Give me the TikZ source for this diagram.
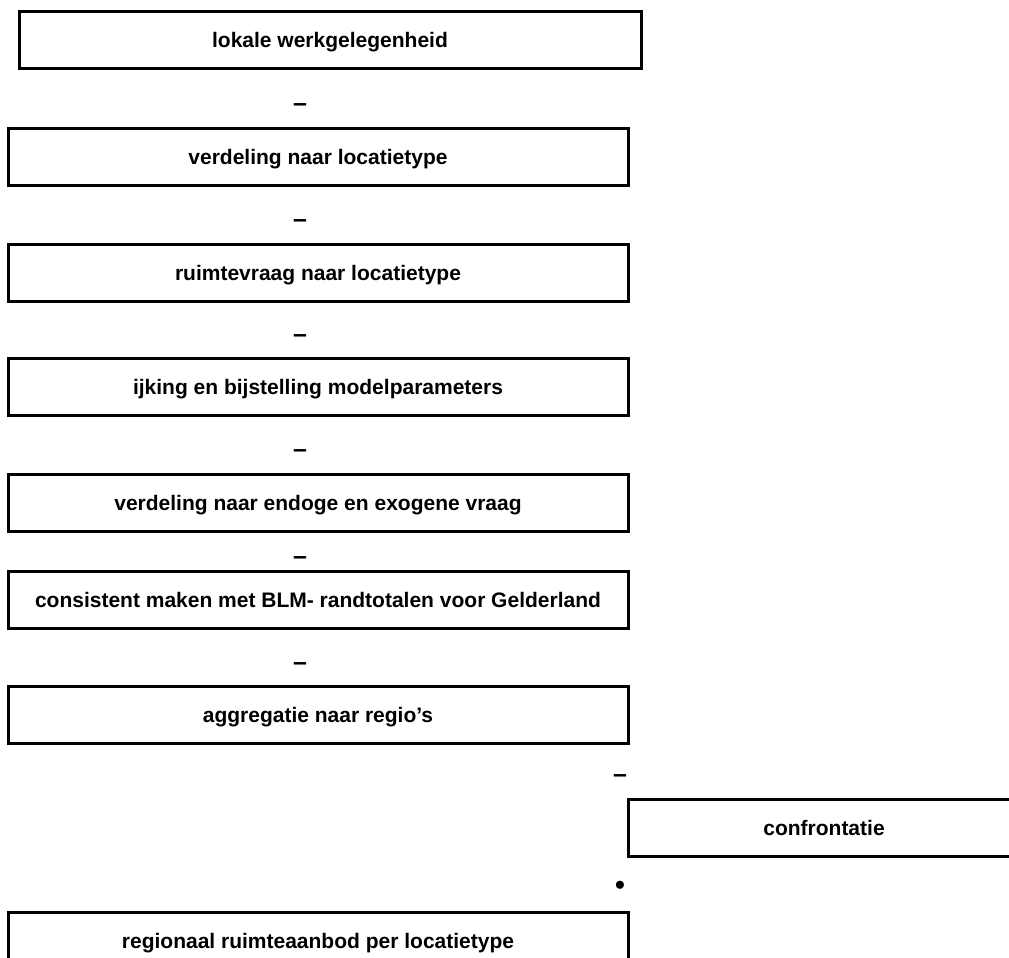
\documentclass[tikz,border=0pt]{standalone}
\usepackage{fontspec}
\setmainfont{Liberation Sans}
\tikzset{
  stap/.style={draw, line width=3pt, minimum width=620pt, minimum height=57pt,
    inner sep=0pt, text height=15pt, text depth=0pt,
    font=\bfseries\fontsize{21}{25}\selectfont},
  teken/.style={inner sep=0pt, font=\bfseries\fontsize{25}{30}\selectfont}
}
\begin{document}
\begin{tikzpicture}[x=1pt,y=-1pt]
    \useasboundingbox (0,0) rectangle (1009,958);

    % Steps of the model, top to bottom
    \node[stap, minimum width=622pt] (werk) at (330,40.5) {lokale werkgelegenheid};
    \node[stap] (verdeling) at (318,157) {verdeling naar locatietype};
    \node[stap] (vraag) at (318,272.5) {ruimtevraag naar locatietype};
    \node[stap] (ijking) at (318,387) {ijking en bijstelling modelparameters};
    \node[stap] (endogeen) at (318,502.5) {verdeling naar endoge en exogene vraag};
    \node[stap] (blm) at (318,599.5) {consistent maken met BLM- randtotalen voor Gelderland};
    \node[stap] (regio) at (318,715) {aggregatie naar regio's};
    \node[stap, minimum width=392pt] (confrontatie) at (824,827.5) {confrontatie};
    \node[stap] (aanbod) at (318,941) {regionaal ruimteaanbod per locatietype};

    % Marks left between the steps
    \foreach \y/\naam in {108/t1, 224/t2, 339/t3, 454/t4, 561/t5, 667/t6}
        \node[teken] (\naam) at (300,\y) {–};
    \node[teken] (t7) at (620,779) {–};
    \node[teken, font=\bfseries\fontsize{28}{32}\selectfont] (t8) at (620,888) {•};
\end{tikzpicture}
\end{document}
